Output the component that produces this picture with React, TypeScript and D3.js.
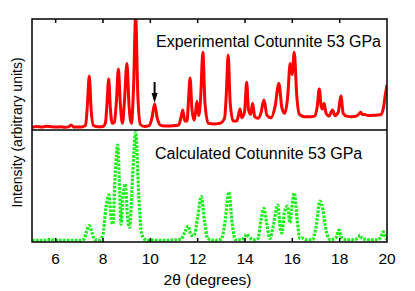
import React, { useRef, useEffect } from 'react';
import * as d3 from 'd3';

// [2theta, intensity], intensity in 0..100 of each panel
const experimental: [number, number][] = [
  [5.0, 2.5], [5.2, 3.2], [5.4, 2.6], [5.6, 3.3], [5.8, 3.0], [6.0, 2.6], [6.2, 2.9], [6.4, 2.4],
  [6.55, 2.8], [6.65, 4.6], [6.75, 2.8], [6.9, 2.6], [7.1, 2.8], [7.26, 4],
  [7.34, 22], [7.42, 48.6], [7.5, 18], [7.6, 4],
  [7.8, 3], [8.0, 3.2], [8.1, 6], [8.17, 24], [8.24, 46], [8.31, 20], [8.39, 6],
  [8.48, 7], [8.57, 27], [8.65, 55], [8.73, 24], [8.82, 6],
  [8.91, 27], [9.01, 60], [9.1, 22], [9.2, 6],
  [9.29, 38], [9.38, 103], [9.47, 32], [9.58, 5],
  [9.75, 3.2], [9.95, 4], [10.07, 11], [10.18, 23.4], [10.29, 11], [10.45, 4],
  [10.7, 3.5], [10.95, 3.8], [11.2, 4.5], [11.29, 11], [11.37, 18], [11.46, 8], [11.55, 8],
  [11.61, 26], [11.68, 46.8], [11.76, 18], [11.85, 9], [11.91, 16], [11.97, 26], [12.04, 13],
  [12.12, 27], [12.22, 70], [12.31, 24], [12.45, 6],
  [12.7, 5.5], [12.95, 6], [13.14, 11], [13.21, 32], [13.29, 67.6], [13.37, 26], [13.5, 8],
  [13.65, 8], [13.72, 13], [13.79, 19], [13.86, 11], [13.98, 16], [14.07, 43], [14.15, 18],
  [14.24, 14], [14.32, 24], [14.41, 12], [14.55, 10.5],
  [14.67, 15], [14.8, 27], [14.93, 13], [15.1, 11],
  [15.27, 21], [15.43, 42], [15.56, 20], [15.68, 15], [15.8, 29], [15.91, 60], [15.99, 50],
  [16.08, 70], [16.19, 30], [16.3, 14],
  [16.5, 12], [16.75, 12], [16.95, 12.5], [17.05, 21], [17.14, 37], [17.22, 21], [17.28, 19],
  [17.34, 24], [17.43, 15], [17.55, 12.5], [17.7, 18], [17.8, 13], [17.94, 16], [18.05, 30.6],
  [18.15, 15], [18.3, 12.5],
  [18.5, 12], [18.7, 12.5], [18.8, 14], [18.89, 16], [18.96, 14], [19.05, 14], [19.2, 13],
  [19.4, 13.2], [19.6, 13.5], [19.75, 14], [19.85, 20], [19.93, 32], [20.0, 40.5],
];

const calculated: [number, number][] = [
  [5.0, 1.5], [5.5, 1.5], [5.76, 2.3], [6.0, 1.5], [6.5, 1.5], [7.0, 1.5], [7.2, 2.5], [7.3, 9],
  [7.42, 14.6], [7.54, 8], [7.65, 2], [7.85, 2],
  [8.0, 7], [8.12, 30], [8.25, 42], [8.35, 20], [8.42, 16], [8.51, 58], [8.62, 86.6], [8.71, 42],
  [8.76, 16], [8.84, 40], [8.94, 51.8], [9.04, 22], [9.12, 13], [9.25, 58], [9.38, 98],
  [9.51, 42], [9.62, 9], [9.75, 2.5], [9.95, 1.5], [10.1, 1.8], [10.25, 1.5], [10.6, 1.5],
  [11.0, 1.8], [11.3, 2.5], [11.46, 9], [11.6, 14.3], [11.72, 6], [11.85, 6], [12.0, 22],
  [12.15, 40.5], [12.29, 19], [12.42, 3], [12.7, 1.5], [13.0, 2.5], [13.15, 17], [13.32, 44.6],
  [13.46, 16], [13.6, 2], [13.85, 2], [14.0, 5], [14.07, 7], [14.15, 5], [14.35, 2], [14.55, 3],
  [14.67, 19], [14.8, 30], [14.93, 15], [15.05, 3], [15.2, 15], [15.38, 33], [15.5, 11],
  [15.56, 8], [15.67, 27], [15.8, 32], [15.9, 17], [15.97, 29], [16.08, 43.8], [16.21, 19],
  [16.32, 3], [16.45, 3.5], [16.6, 2], [16.85, 2], [17.0, 13], [17.17, 36.6], [17.3, 28],
  [17.43, 10], [17.6, 2], [17.85, 4], [17.97, 10.7], [18.08, 4], [18.3, 2], [18.6, 2],
  [18.78, 4], [18.86, 6], [18.95, 3], [19.3, 2], [19.6, 2], [19.75, 5], [19.84, 9.2],
  [19.93, 4], [20.0, 2.5],
];

const xTicks = [6, 8, 10, 12, 14, 16, 18, 20];
const arrowAt: [number, number] = [10.18, 23.4];

const App: React.FC = () => {
  const svgRef = useRef<SVGSVGElement>(null);

  useEffect(() => {
    if (!svgRef.current) return;
    const svg = d3.select(svgRef.current);
    svg.selectAll('*').remove();

    const left = 32, right = 387, top = 19, mid = 130, bottom = 242;
    const font = 'Liberation Sans, Arial, Helvetica, sans-serif';

    const x = d3.scaleLinear().domain([5, 20]).range([left, right]);
    const yTop = d3.scaleLinear().domain([0, 100]).range([mid, top]);
    const yBot = d3.scaleLinear().domain([0, 100]).range([bottom, mid]);

    const defs = svg.append('defs');
    defs.append('clipPath').attr('id', 'clipTop')
      .append('rect').attr('x', left).attr('y', top).attr('width', right - left).attr('height', mid - top);
    defs.append('clipPath').attr('id', 'clipBot')
      .append('rect').attr('x', left).attr('y', mid).attr('width', right - left).attr('height', bottom - mid + 2);

    // experimental curve
    const lineTop = d3.line<[number, number]>()
      .x(d => x(d[0])).y(d => yTop(d[1])).curve(d3.curveMonotoneX);
    svg.append('path')
      .attr('clip-path', 'url(#clipTop)')
      .attr('d', lineTop(experimental))
      .attr('fill', 'none')
      .attr('stroke', '#ff0000')
      .attr('stroke-width', 3)
      .attr('stroke-linejoin', 'round');

    // calculated curve
    const lineBot = d3.line<[number, number]>()
      .x(d => x(d[0])).y(d => yBot(d[1])).curve(d3.curveMonotoneX);
    svg.append('path')
      .attr('clip-path', 'url(#clipBot)')
      .attr('d', lineBot(calculated))
      .attr('fill', 'none')
      .attr('stroke', '#1aef1a')
      .attr('stroke-width', 3.2)
      .attr('stroke-dasharray', '2.6,1.3');

    // frame and divider
    svg.append('rect')
      .attr('x', left).attr('y', top).attr('width', right - left).attr('height', bottom - top)
      .attr('fill', 'none').attr('stroke', '#000').attr('stroke-width', 1.5);
    svg.append('line')
      .attr('x1', left).attr('x2', right).attr('y1', mid).attr('y2', mid)
      .attr('stroke', '#000').attr('stroke-width', 1.5);

    // ticks
    const inner = xTicks.filter(t => t < 20);
    svg.append('g').selectAll('line').data(inner).enter().append('line')
      .attr('x1', d => x(d)).attr('x2', d => x(d))
      .attr('y1', top).attr('y2', top + 4)
      .attr('stroke', '#000').attr('stroke-width', 1.5);
    svg.append('g').selectAll('line').data(inner).enter().append('line')
      .attr('x1', d => x(d)).attr('x2', d => x(d))
      .attr('y1', bottom).attr('y2', bottom - 4)
      .attr('stroke', '#000').attr('stroke-width', 1.5);

    svg.append('g').selectAll('text').data(xTicks).enter().append('text')
      .attr('x', d => x(d)).attr('y', 264)
      .attr('text-anchor', 'middle')
      .attr('font-family', font).attr('font-size', 15.5)
      .text(d => d);

    svg.append('text')
      .attr('x', (left + right) / 2 - 2).attr('y', 285)
      .attr('text-anchor', 'middle')
      .attr('font-family', font).attr('font-size', 15.5)
      .text('2θ (degrees)');

    svg.append('text')
      .attr('transform', `translate(22,${(top + bottom) / 2 + 2}) rotate(-90)`)
      .attr('text-anchor', 'middle')
      .attr('font-family', font).attr('font-size', 14)
      .text('Intensity (arbitrary units)');

    svg.append('text')
      .attr('x', 156).attr('y', 47)
      .attr('font-family', font).attr('font-size', 16)
      .text('Experimental Cotunnite 53 GPa');
    svg.append('text')
      .attr('x', 155).attr('y', 159)
      .attr('font-family', font).attr('font-size', 16)
      .text('Calculated Cotunnite 53 GPa');

    // arrow marking the peak
    const ax = x(arrowAt[0]);
    const tipY = yTop(arrowAt[1]) - 1;
    svg.append('line')
      .attr('x1', ax).attr('x2', ax).attr('y1', 82).attr('y2', tipY - 8)
      .attr('stroke', '#000').attr('stroke-width', 2);
    svg.append('path')
      .attr('d', `M${ax - 3},${tipY - 10} L${ax + 3},${tipY - 10} L${ax},${tipY} Z`)
      .attr('fill', '#000');
  }, []);

  return (
    <svg
      ref={svgRef}
      width={415}
      height={291}
      style={{ position: 'absolute', left: 0, top: 0, background: '#fff' }}
    />
  );
};

export default App;
